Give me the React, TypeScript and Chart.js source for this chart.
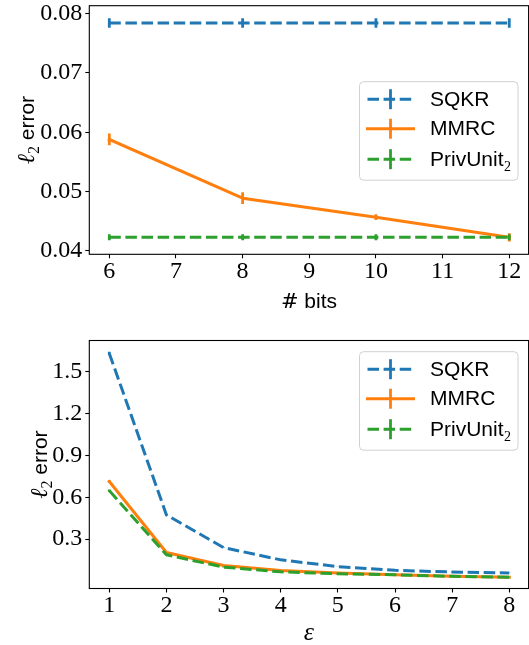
import React, { useEffect, useRef } from "react";
import { Chart, registerables } from "chart.js";

Chart.register(...registerables);

// ---------- top panel: l2 error vs # bits ----------
const bitsX = [6, 8, 10, 12];
const bitsSQKR = [0.0784, 0.0784, 0.0784, 0.0784];
const bitsSQKRErr = [0.0008, 0.0008, 0.0008, 0.0008];
const bitsMMRC = [0.0588, 0.0489, 0.0457, 0.0423];
const bitsMMRCErr = [0.001, 0.001, 0.0005, 0.0007];
const bitsPriv = [0.0423, 0.0423, 0.0423, 0.0423];
const bitsPrivErr = [0.0005, 0.0005, 0.0005, 0.0005];
const bitsXTicks = [6, 7, 8, 9, 10, 11, 12];
const bitsYTicks = [0.04, 0.05, 0.06, 0.07, 0.08];

// ---------- bottom panel: l2 error vs epsilon ----------
const epsX = [1, 2, 3, 4, 5, 6, 7, 8];
const epsSQKR = [1.631, 0.474, 0.24, 0.152, 0.104, 0.077, 0.065, 0.058];
const epsSQKRErr = [0.012, 0.004, 0.002, 0.001, 0.001, 0.001, 0.001, 0.001];
const epsMMRC = [0.713, 0.205, 0.111, 0.076, 0.057, 0.046, 0.035, 0.028];
const epsMMRCErr = [0.01, 0.003, 0.002, 0.001, 0.001, 0.001, 0.001, 0.001];
const epsPriv = [0.648, 0.188, 0.1, 0.066, 0.052, 0.045, 0.034, 0.027];
const epsPrivErr = [0.008, 0.003, 0.002, 0.001, 0.001, 0.001, 0.001, 0.001];
const epsXTicks = [1, 2, 3, 4, 5, 6, 7, 8];
const epsYTicks = [0.3, 0.6, 0.9, 1.2, 1.5];

// ---------- series ----------
const seriesNames = ["SQKR", "MMRC", "PrivUnit"];
const seriesSubs = ["", "", "2"];
const seriesColors = ["#1f77b4", "#ff7f0e", "#2ca02c"];
const seriesDashed = [true, false, true];

const DASH = [11.5, 4.6];
const LW = 3;
const SERIF = '"Liberation Serif", "DejaVu Serif", serif';
const SANS = '"Liberation Sans", "DejaVu Sans", sans-serif';

type PanelSpec = {
  width: number;
  height: number;
  area: { left: number; right: number; top: number; bottom: number };
  xRange: [number, number];
  yRange: [number, number];
  xTicks: number[];
  yTicks: number[];
  yDecimals: number;
  x: number[];
  values: number[][];
  errs: number[][];
  yTitleX: number;
  xTitle: "bits" | "eps";
  xTitleY: number;
  legend: { x: number; y: number; w: number; h: number };
};

function drawYTitle(ctx: CanvasRenderingContext2D, cx: number, cy: number) {
  ctx.save();
  ctx.translate(cx, cy);
  ctx.rotate(-Math.PI / 2);
  ctx.fillStyle = "#000";
  ctx.textBaseline = "alphabetic";
  ctx.textAlign = "left";
  const f1 = `italic 24px ${SERIF}`;
  const f2 = `16px ${SERIF}`;
  const f3 = `21px ${SANS}`;
  ctx.font = f1;
  const w1 = ctx.measureText("ℓ").width;
  ctx.font = f2;
  const w2 = ctx.measureText("2").width;
  ctx.font = f3;
  const w3 = ctx.measureText(" error").width;
  let x = -(w1 + w2 + w3) / 2;
  ctx.font = f1;
  ctx.fillText("ℓ", x, 0);
  x += w1;
  ctx.font = f2;
  ctx.fillText("2", x, 5);
  x += w2;
  ctx.font = f3;
  ctx.fillText(" error", x, 0);
  ctx.restore();
}

function drawXTitle(ctx: CanvasRenderingContext2D, kind: string, cx: number, y: number) {
  ctx.save();
  ctx.fillStyle = "#000";
  ctx.textBaseline = "alphabetic";
  ctx.textAlign = "left";
  if (kind === "bits") {
    const f1 = `21px "DejaVu Serif", serif`;
    const f2 = `21px ${SANS}`;
    ctx.font = f1;
    const w1 = ctx.measureText("#").width;
    ctx.font = f2;
    const w2 = ctx.measureText(" bits").width;
    let x = cx - (w1 + w2) / 2;
    ctx.font = f1;
    ctx.fillText("#", x, y);
    x += w1;
    ctx.font = f2;
    ctx.fillText(" bits", x, y);
  } else {
    ctx.font = `italic 26px ${SERIF}`;
    ctx.textAlign = "center";
    ctx.fillText("ε", cx, y);
  }
  ctx.restore();
}

function drawLegend(ctx: CanvasRenderingContext2D, box: { x: number; y: number; w: number; h: number }) {
  ctx.save();
  const r = 4;
  const { x, y, w, h } = box;
  ctx.beginPath();
  ctx.moveTo(x + r, y);
  ctx.lineTo(x + w - r, y);
  ctx.arcTo(x + w, y, x + w, y + r, r);
  ctx.lineTo(x + w, y + h - r);
  ctx.arcTo(x + w, y + h, x + w - r, y + h, r);
  ctx.lineTo(x + r, y + h);
  ctx.arcTo(x, y + h, x, y + h - r, r);
  ctx.lineTo(x, y + r);
  ctx.arcTo(x, y, x + r, y, r);
  ctx.closePath();
  ctx.fillStyle = "rgba(255,255,255,0.8)";
  ctx.fill();
  ctx.strokeStyle = "#d0d0d0";
  ctx.lineWidth = 1;
  ctx.stroke();
  const rows = [17.5, 47, 77.5];
  seriesNames.forEach((name, i) => {
    const ry = y + rows[i];
    ctx.strokeStyle = seriesColors[i];
    ctx.lineWidth = LW;
    ctx.setLineDash(seriesDashed[i] ? DASH : []);
    ctx.lineCap = seriesDashed[i] ? "butt" : "square";
    ctx.beginPath();
    ctx.moveTo(x + 8, ry);
    ctx.lineTo(x + 54, ry);
    ctx.stroke();
    ctx.setLineDash([]);
    ctx.lineCap = "butt";
    ctx.lineWidth = 2.8;
    ctx.beginPath();
    ctx.moveTo(x + 31, ry - 10);
    ctx.lineTo(x + 31, ry + 10);
    ctx.stroke();
    ctx.fillStyle = "#000";
    ctx.textBaseline = "alphabetic";
    ctx.textAlign = "left";
    ctx.font = `21px ${SANS}`;
    ctx.fillText(name, x + 70.5, ry + 6.5);
    if (seriesSubs[i]) {
      const wn = ctx.measureText(name).width;
      ctx.font = `14px ${SERIF}`;
      ctx.fillText(seriesSubs[i], x + 70.5 + wn + 0.5, ry + 11.5);
    }
  });
  ctx.restore();
}

const decorPlugin = {
  id: "panelDecor",
  afterDatasetDraw(chart: any, args: any, opts: any) {
    const ds = chart.data.datasets[args.index];
    const errs: number[] = ds.errs;
    if (!errs) return;
    const ctx: CanvasRenderingContext2D = chart.ctx;
    const ys = chart.scales.y;
    const xs = chart.scales.x;
    const a = chart.chartArea;
    ctx.save();
    ctx.beginPath();
    ctx.rect(a.left, a.top, a.right - a.left, a.bottom - a.top);
    ctx.clip();
    ctx.strokeStyle = ds.borderColor;
    ctx.lineWidth = 2.8;
    ctx.setLineDash([]);
    ds.data.forEach((p: any, i: number) => {
      const px = xs.getPixelForValue(p.x);
      ctx.beginPath();
      ctx.moveTo(px, ys.getPixelForValue(p.y - errs[i]));
      ctx.lineTo(px, ys.getPixelForValue(p.y + errs[i]));
      ctx.stroke();
    });
    ctx.restore();
  },
  afterDraw(chart: any, args: any, opts: any) {
    const ctx: CanvasRenderingContext2D = chart.ctx;
    const a = chart.chartArea;
    ctx.save();
    ctx.strokeStyle = "#000";
    ctx.lineWidth = 1.1;
    ctx.setLineDash([]);
    ctx.strokeRect(a.left, a.top, a.right - a.left, a.bottom - a.top);
    ctx.restore();
    drawYTitle(ctx, opts.yTitleX, (a.top + a.bottom) / 2);
    drawXTitle(ctx, opts.xTitle, (a.left + a.right) / 2, opts.xTitleY);
    drawLegend(ctx, opts.legend);
  },
};

function buildChart(canvas: HTMLCanvasElement, p: PanelSpec) {
  const datasets = seriesNames.map((name, i) => ({
    label: name,
    data: p.x.map((x, j) => ({ x, y: p.values[i][j] })),
    errs: p.errs[i],
    borderColor: seriesColors[i],
    backgroundColor: seriesColors[i],
    borderWidth: LW,
    borderDash: seriesDashed[i] ? DASH : [],
    borderCapStyle: seriesDashed[i] ? "butt" : "square",
    borderJoinStyle: "round",
    pointRadius: 0,
    pointHoverRadius: 0,
    fill: false,
    tension: 0,
    order: 2 - i,
  }));
  const tickFont = { family: SERIF, size: 24, lineHeight: 1 };
  return new Chart(canvas, {
    type: "line",
    data: { datasets } as any,
    plugins: [decorPlugin],
    options: {
      responsive: false,
      animation: false,
      devicePixelRatio: 1,
      events: [],
      layout: {
        padding: { left: 0, right: p.width - p.area.right, top: p.area.top, bottom: 0 },
      },
      plugins: {
        legend: { display: false },
        tooltip: { enabled: false },
        panelDecor: {
          yTitleX: p.yTitleX,
          xTitle: p.xTitle,
          xTitleY: p.xTitleY,
          legend: p.legend,
        },
      } as any,
      scales: {
        x: {
          type: "linear",
          min: p.xRange[0],
          max: p.xRange[1],
          afterBuildTicks: (s: any) => {
            s.ticks = p.xTicks.map((v) => ({ value: v }));
          },
          afterFit: (s: any) => {
            s.height = p.height - p.area.bottom;
            s.paddingLeft = 0;
            s.paddingRight = 0;
            s.paddingTop = 0;
            s.paddingBottom = 0;
          },
          grid: { display: true, drawOnChartArea: false, drawTicks: true, tickLength: 4, tickWidth: 1.1, tickColor: "#000" },
          border: { display: false },
          ticks: {
            font: tickFont,
            color: "#000",
            padding: 1,
            maxRotation: 0,
            autoSkip: false,
            callback: (v: any) => String(v),
          },
        },
        y: {
          type: "linear",
          min: p.yRange[0],
          max: p.yRange[1],
          afterBuildTicks: (s: any) => {
            s.ticks = p.yTicks.map((v) => ({ value: v }));
          },
          afterFit: (s: any) => {
            s.width = p.area.left;
            s.paddingLeft = 0;
            s.paddingRight = 0;
            s.paddingTop = 0;
            s.paddingBottom = 0;
          },
          grid: { display: true, drawOnChartArea: false, drawTicks: true, tickLength: 4, tickWidth: 1.1, tickColor: "#000" },
          border: { display: false },
          ticks: {
            font: tickFont,
            color: "#000",
            padding: 3,
            autoSkip: false,
            callback: (v: any) => Number(v).toFixed(p.yDecimals),
          },
        },
      },
    } as any,
  });
}

const topPanel: PanelSpec = {
  width: 529,
  height: 320,
  area: { left: 89.3, right: 528.6, top: 5.7, bottom: 254.3 },
  xRange: [5.7, 12.29],
  yRange: [0.039444, 0.081314],
  xTicks: bitsXTicks,
  yTicks: bitsYTicks,
  yDecimals: 2,
  x: bitsX,
  values: [bitsSQKR, bitsMMRC, bitsPriv],
  errs: [bitsSQKRErr, bitsMMRCErr, bitsPrivErr],
  yTitleX: 33.7,
  xTitle: "bits",
  xTitleY: 308,
  legend: { x: 359.5, y: 81.7, w: 158.5, h: 98.5 },
};

const bottomPanel: PanelSpec = {
  width: 529,
  height: 325,
  area: { left: 89.3, right: 528.6, top: 20.5, bottom: 268.5 },
  xRange: [0.65, 8.338],
  yRange: [-0.0532, 1.7235],
  xTicks: epsXTicks,
  yTicks: epsYTicks,
  yDecimals: 1,
  x: epsX,
  values: [epsSQKR, epsMMRC, epsPriv],
  errs: [epsSQKRErr, epsMMRCErr, epsPrivErr],
  yTitleX: 46.5,
  xTitle: "eps",
  xTitleY: 320,
  legend: { x: 359.5, y: 31.7, w: 158.5, h: 98.5 },
};

function Panel({ spec, top }: { spec: PanelSpec; top: number }) {
  const ref = useRef<HTMLCanvasElement | null>(null);
  useEffect(() => {
    if (!ref.current) return;
    const chart = buildChart(ref.current, spec);
    return () => chart.destroy();
  }, [spec]);
  return (
    <canvas
      ref={ref}
      width={spec.width}
      height={spec.height}
      style={{ position: "absolute", left: 0, top, width: spec.width, height: spec.height, display: "block" }}
    />
  );
}

export default function App() {
  return (
    <div style={{ position: "absolute", left: 0, top: 0, width: 529, height: 645, background: "#fff", overflow: "hidden" }}>
      <Panel spec={topPanel} top={0} />
      <Panel spec={bottomPanel} top={320} />
    </div>
  );
}
